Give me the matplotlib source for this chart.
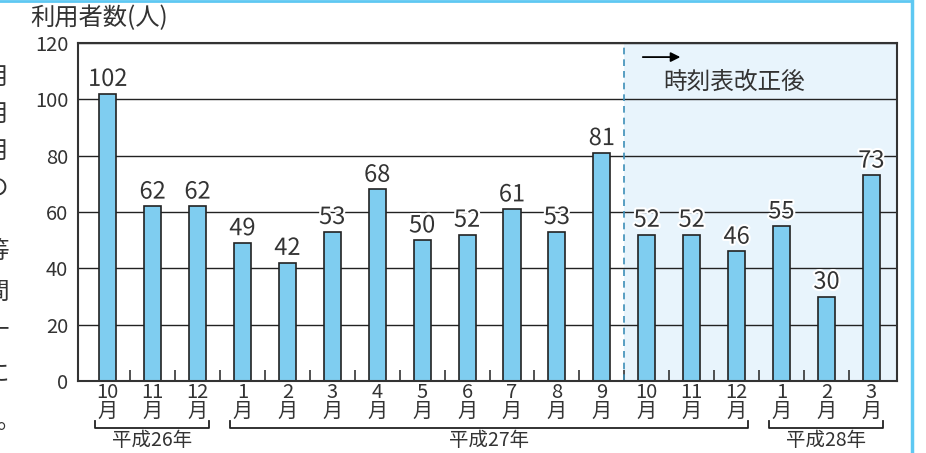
import matplotlib
matplotlib.use("Agg")
import matplotlib.pyplot as plt
from matplotlib import patheffects as pe, transforms
from matplotlib.lines import Line2D

plt.rcParams['font.family'] = ['Noto Sans CJK JP', 'DejaVu Sans']

months = ["10", "11", "12", "1", "2", "3", "4", "5", "6",
          "7", "8", "9", "10", "11", "12", "1", "2", "3"]
users = [102, 62, 62, 49, 42, 53, 68, 50, 52, 61, 53, 81, 52, 52, 46, 55, 30, 73]
eras = ["平成26年", "平成27年", "平成28年"]
era_spans = [(0, 2), (3, 14), (15, 17)]
revision_after = 11  # 9月 of 平成27年, timetable changed from the next month
yticks = [0, 20, 40, 60, 80, 100, 120]

text_col = "#333333"
bar_col = "#7fcdf0"
shade_col = "#e8f4fc"

fig = plt.figure(figsize=(9.26, 4.53), dpi=100)
ax = fig.add_axes([78/926, 1-381/453, 819/926, 338/453])

x = list(range(len(users)))
ax.bar(x, users, width=0.38, color=bar_col, edgecolor="#222222", linewidth=1.2, zorder=2)

for xi, v in zip(x, users):
    ax.annotate(str(v), (xi, v), xytext=(0, 2), textcoords="offset points",
                ha="center", va="bottom", fontsize=17, color=text_col, zorder=4,
                path_effects=[pe.withStroke(linewidth=3, foreground="white")])

ax.set_xlim(-0.66, 17.57)
ax.set_ylim(0, 120)
ax.set_yticks(yticks)
ax.tick_params(axis="y", length=0, pad=7, labelsize=14.5, labelcolor=text_col)

ax.set_xticks(x)
ax.set_xticklabels([m + "\n月" for m in months], linespacing=0.82)
ax.tick_params(axis="x", which="major", length=0, pad=1, labelsize=14.5, labelcolor=text_col)
ax.set_xticks([i + 0.5 for i in range(len(users) - 1)], minor=True)
ax.tick_params(axis="x", which="minor", direction="in", length=8, width=1.2, color="#333333")

ax.set_axisbelow(True)
ax.yaxis.grid(True, color="#222222", linewidth=1.0)
for s in ax.spines.values():
    s.set_color("#333333")
    s.set_linewidth(1.5)

# after the timetable revision
ax.axvspan(revision_after + 0.5, 17.57, color=shade_col, zorder=0.2, lw=0)
ax.axvline(revision_after + 0.5, color="#3d8fb8", linestyle=(0, (4, 3)), lw=1.2, zorder=1.5)
ax.annotate("", xy=(12.81, 115), xytext=(11.85, 115),
            arrowprops=dict(arrowstyle="-|>", color="black", lw=1.3, mutation_scale=14))
ax.text(13.95, 106.2, "時刻表改正後", ha="center", va="center", fontsize=17, color=text_col)

fig.text(30/926, 1-18/453, "利用者数(人)", ha="left", va="center", fontsize=17.5, color=text_col)

# era brackets under the month labels
tr = transforms.blended_transform_factory(ax.transData, fig.transFigure)
y_line, y_end = 1-428/453, 1-421/453
for name, (a, b) in zip(eras, era_spans):
    x0, x1 = a - 0.28, b + 0.26
    fig.add_artist(Line2D([x0, x0, x1, x1], [y_end, y_line, y_line, y_end],
                          transform=tr, color="#222222", lw=1.3))
    fig.text((x0 + x1) / 2, 1-441/453, name, transform=tr, ha="center", va="center",
             fontsize=14, color=text_col)

# page decoration: cropped text column and frame lines
side_chars = ["月", "月", "月", "の", "等", "間", "十", "に"]
side_y = [77, 114, 151, 189, 252, 292, 332, 375]
for ch, yy in zip(side_chars, side_y):
    fig.text(9/926, 1-yy/453, ch, ha="right", va="center", fontsize=17, color=text_col)
fig.text(-3/926, 1-421/453, "。", ha="left", va="center", fontsize=17, color=text_col)
fig.add_artist(Line2D([0, 912/926], [1-1/453, 1-1/453], color="#5ec8f2", lw=2))
fig.add_artist(Line2D([912/926, 912/926], [0, 1], color="#5ec8f2", lw=2.5))

fig.savefig("out.png", dpi=100)
